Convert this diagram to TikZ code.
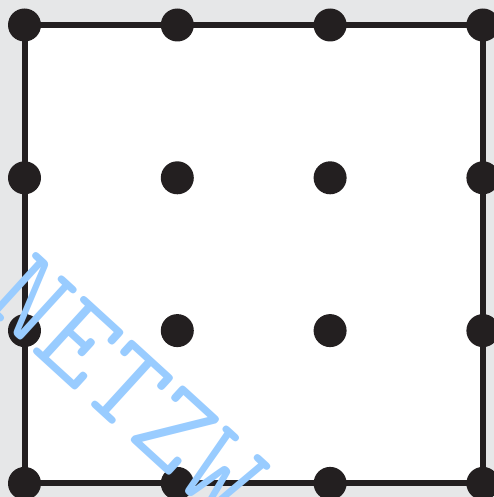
\documentclass[tikz,border=0pt]{standalone}
\usetikzlibrary{positioning}
\definecolor{ink}{HTML}{231F20}
\definecolor{paper}{HTML}{E6E7E8}
\definecolor{mark}{HTML}{99CCFF}

\begin{document}
\begin{tikzpicture}[x=1pt,y=-1pt,
 dot/.style={circle,fill=ink,inner sep=0pt,minimum size=33pt},
 frame/.style={draw=ink,line width=6pt,fill=white},
 wm/.style={text=mark,inner sep=0pt,rotate=-42.4,
 font=\ttfamily\fontsize{126}{126}\selectfont}]
\fill[paper] (0,0) rectangle (494,497);
\useasboundingbox (0,0) rectangle (494,497);
\clip (0,0) rectangle (494,497);
% grid points
\foreach \i in {0,...,3}
 \foreach \j in {0,...,3}
 \coordinate (p-\i-\j) at (24.5+152.8*\i,25+152.8*\j);
\draw[frame] (p-0-0) rectangle (p-3-3);
\foreach \i in {0,...,3}
 \foreach \j in {0,...,3}
 \node[dot] (d-\i-\j) at (p-\i-\j) {};
% watermark
\node[wm,anchor=center] (wm) at (127,387) {NETZW};
\end{tikzpicture}
\end{document}
